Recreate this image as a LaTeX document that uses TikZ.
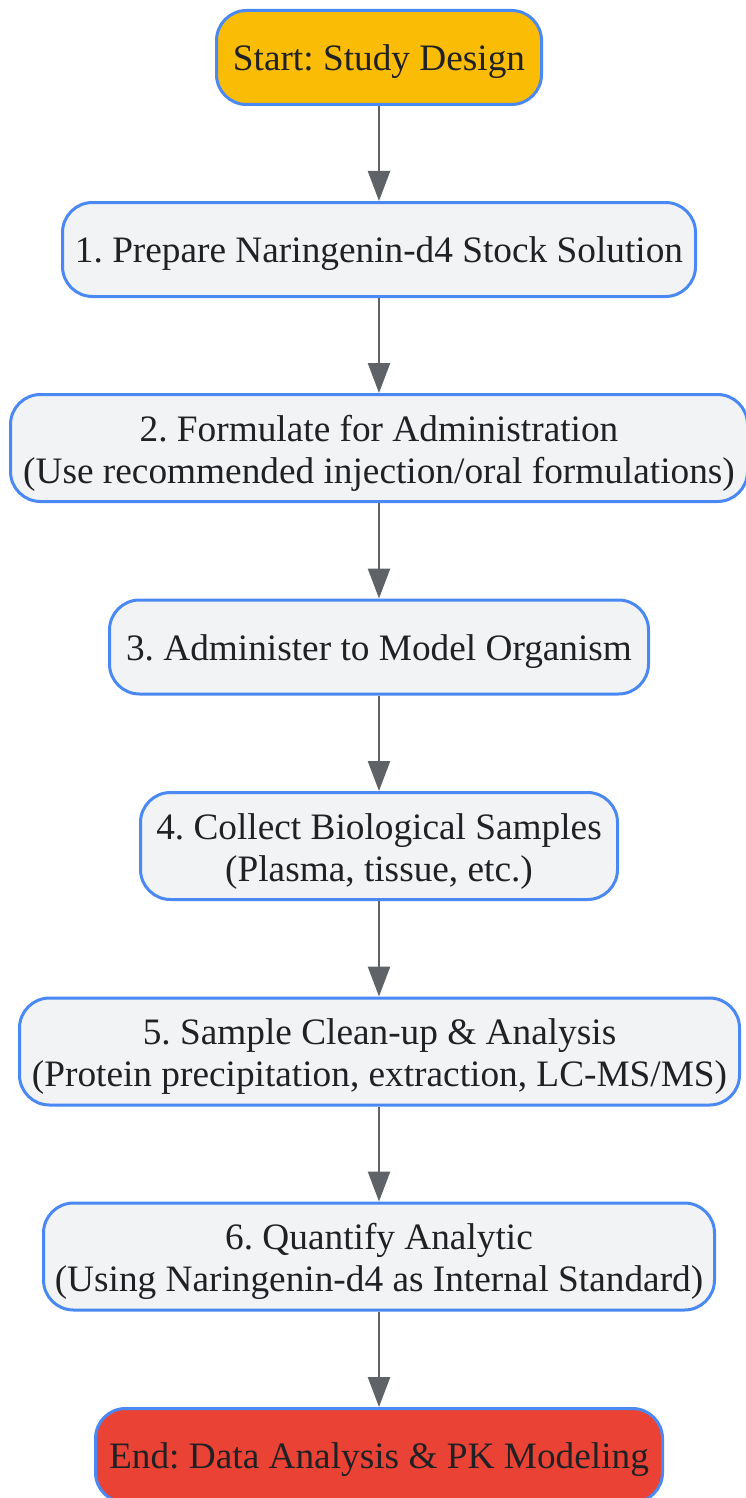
\documentclass[tikz,border=0pt]{standalone}
\usepackage{fontspec}
\setmainfont{Liberation Serif}
\usetikzlibrary{arrows.meta}
\definecolor{bordblue}{HTML}{4A89F3}
\definecolor{boxfill}{HTML}{F1F3F4}
\definecolor{startfill}{HTML}{FBBC05}
\definecolor{endfill}{HTML}{EA4335}
\definecolor{arrowgray}{HTML}{5F6368}
\definecolor{txt}{HTML}{202124}
\newcommand\liftline{\rule{0pt}{36pt}}
\tikzset{
  box/.style={rectangle, rounded corners=30pt, draw=bordblue, line width=3pt, fill=boxfill,
    inner sep=0pt, align=center, text=txt, minimum height=94pt,
    font=\fontsize{37.3pt}{42pt}\selectfont\frenchspacing,
    execute at begin node={\rule{0pt}{34.5pt}}},
  tall/.style={minimum height=107pt},
  link/.style={draw=arrowgray, line width=2.5pt, -{Triangle[length=30pt,width=22pt]}}
}
\begin{document}
\begin{tikzpicture}[x=1pt,y=-1pt]
\useasboundingbox (0,0) rectangle (745,1498);
\node[box, fill=startfill, minimum width=325pt] (s) at (379,57.5) {Start: Study Design};
\node[box, minimum width=633pt] (n1) at (379,249.5) {1. Prepare Naringenin-d4 Stock Solution};
\node[box, tall, minimum width=737pt] (n2) at (379,448) {\liftline 2. Formulate for Administration\\(Use recommended injection/oral formulations)};
\node[box, minimum width=539pt] (n3) at (379,647) {3. Administer to Model Organism};
\node[box, tall, minimum width=477pt] (n4) at (379,846) {\liftline 4. Collect Biological Samples\\(Plasma, tissue, etc.)};
\node[box, tall, minimum width=720pt] (n5) at (379.5,1051.5) {\liftline 5. Sample Clean-up \& Analysis\\(Protein precipitation, extraction, LC-MS/MS)};
\node[box, tall, minimum width=671pt] (n6) at (379,1256.5) {\liftline 6. Quantify Analytic\\(Using Naringenin-d4 as Internal Standard)};
\node[box, fill=endfill, minimum width=567pt] (e) at (379,1455.5) {End: Data Analysis \& PK Modeling};
\draw[link] (s.south) -- (n1.north);
\draw[link] (n1.south) -- (n2.north);
\draw[link] (n2.south) -- (n3.north);
\draw[link] (n3.south) -- (n4.north);
\draw[link] (n4.south) -- (n5.north -| n4.south);
\draw[link] (n5.south -| n4.south) -- (n6.north);
\draw[link] (n6.south) -- (e.north);
\end{tikzpicture}
\end{document}
